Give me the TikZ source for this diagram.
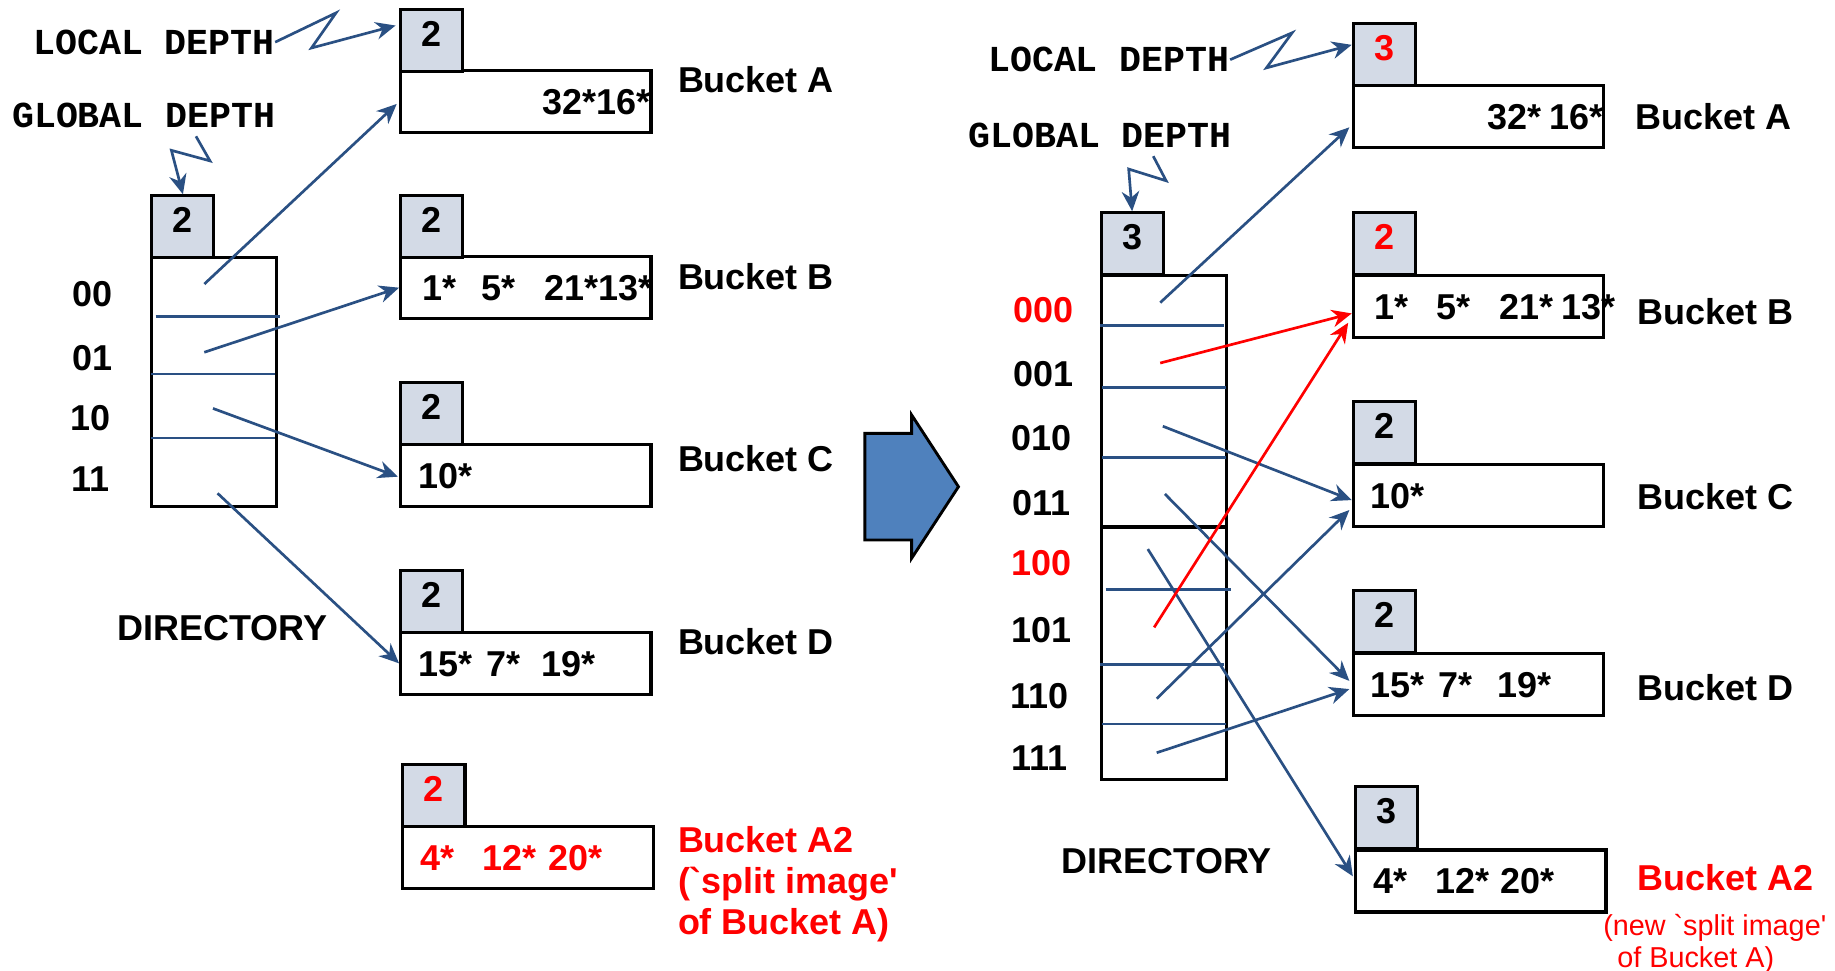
\documentclass[tikz,border=0pt]{standalone}
\usepackage{fontspec}
\setmainfont{Liberation Sans}
\newfontfamily\machine{Liberation Mono}
\usetikzlibrary{arrows.meta, calc}
\definecolor{bleufonce}{HTML}{2A5083}
\definecolor{rouge}{HTML}{FF0000}
\definecolor{pointille}{HTML}{D3DAE6}
\definecolor{bleuplein}{HTML}{4F81BD}
\newcommand{\grasse}{\bfseries\fontsize{17.5}{21}\selectfont}
\tikzset{
  prof/.style={rectangle, draw=black, line width=1.5pt, fill=pointille,
    minimum width=1.06cm, minimum height=1.06cm, inner sep=0pt,
    text height=12.6pt, text depth=6.8pt, font=\grasse, anchor=north west},
  seau/.style={rectangle, draw=black, line width=1.5pt, fill=white,
    minimum width=4.28cm, minimum height=1.06cm, text width=3.68cm,
    inner xsep=0.3cm, inner ysep=0pt, text height=12.6pt, text depth=0pt,
    align=left, font=\grasse, anchor=north west},
  repertoire/.style={rectangle, draw=black, line width=1.5pt, fill=white,
    minimum width=2.13cm, minimum height=4.26cm, inner sep=0pt, anchor=north west},
  etiquette/.style={font=\grasse, anchor=west, inner sep=0pt},
  bits/.style={font=\grasse, inner sep=0pt},
  legende/.style={font=\machine\bfseries\fontsize{17.8}{20}\selectfont,
    anchor=west, inner sep=0pt},
  fleche/.style={-{Stealth[length=3.4mm, width=3mm, inset=1.1mm]},
    line width=1.3pt, color=bleufonce},
  flecherouge/.style={fleche, color=rouge},
  ligne/.style={line width=1.3pt, color=bleufonce},
  grossefleche/.style={draw=black, line width=1.4pt, fill=bleuplein, line join=miter}
}
\begin{document}
\begin{tikzpicture}[x=0.02cm, y=-0.02cm]
  \useasboundingbox (0,0) rectangle (1568,829);

  % ---- avant : profondeur globale 2
  \node[legende] (lloc) at (28,36) {LOCAL DEPTH};
  \node[legende] (lglob) at (10,99) {GLOBAL DEPTH};

  \node[repertoire] (lrep) at (128.5,218.7) {};
  \node[prof] (lgd) at (128.5,166) {2};
  \draw[ligne] (133,270.6) -- (239,270.6);
  \draw[ligne] (129,319.6) -- (235,319.6);
  \draw[ligne] (129,374.4) -- (235,374.4);

  \node[bits] (l00) at (79,251) {00};
  \node[bits] (l01) at (79,306) {01};
  \node[bits] (l10) at (77,357) {10};
  \node[bits] (l11) at (77,409) {11};
  \node[font=\grasse] (ldir) at (190,537) {DIRECTORY};

  \node[seau, align=right, text width=4.28cm, inner xsep=0pt] (lA) at (341,59) {\mbox{32*16*}};
  \node[prof] (lpA) at (341,7) {2};
  \node[seau] (lB) at (341,218) {\mbox{\hspace{2pt}1*\hspace{0.7em}5*\hspace{0.8em}21*13*}};
  \node[prof] (lpB) at (341,166) {2};
  \node[seau] (lC) at (341,378.5) {10*};
  \node[prof] (lpC) at (341,325.5) {2};
  \node[seau] (lD) at (341,539) {\mbox{15*\hspace{0.39em}7*\hspace{0.6em}19*}};
  \node[prof] (lpD) at (341,486) {2};
  \node[seau, text=rouge] (lA2) at (343,705) {\mbox{4*\hspace{0.78em}12*\hspace{0.33em}20*}};
  \node[prof, text=rouge] (lpA2) at (343,652) {2};

  \node[etiquette] (leA) at (579,68) {Bucket A};
  \node[etiquette] (leB) at (579,236) {Bucket B};
  \node[etiquette] (leC) at (579,392) {Bucket C};
  \node[etiquette] (leD) at (579,548) {Bucket D};
  \node[etiquette, anchor=north west, align=left, text=rouge,
    font=\bfseries\fontsize{17.5}{20.1}\selectfont] (leA2) at (579,705.5)
    {Bucket A2\\(\textasciigrave split image\textquotesingle\\of Bucket A)};

  \draw[fleche] (lloc.east) -- ++(52,-25) -- ++(-21,30) -- ($(lpA.west)+(-3,-13)$);
  \draw[fleche] ($(lglob.south)+(44.5,6.5)$) -- ++(12,21) -- ++(-33,-9) -- (lgd.north);

  \coordinate (g00) at (174.6,242.7);
  \coordinate (g01) at (174.6,301);
  \coordinate (g10) at (182,349);
  \coordinate (g11) at (185.9,421.5);
  \draw[fleche] (g00) -- ($(lA.west)+(-2,2)$);
  \draw[fleche] (g01) -- (lB.west);
  \draw[fleche] (g10) -- ($(lC.west)+(-1,1)$);
  \draw[fleche] (g11) -- (lD.west);

  % ---- grosse fleche
  \draw[grossefleche] (739,370.3) -- (779,370.3) -- (779,354.6) -- (819,415.9)
    -- (779,477) -- (779,461.4) -- (739,461.4) -- cycle;

  % ---- apres : profondeur globale 3
  \node[legende] (rloc) at (844,51) {LOCAL DEPTH};
  \node[legende] (rglob) at (827,116) {GLOBAL DEPTH};

  \node[repertoire, minimum width=2.14cm, minimum height=4.3cm] (rrep1) at (939.6,234) {};
  \node[repertoire, minimum width=2.14cm, minimum height=4.31cm] (rrep2) at (939.6,449) {};
  \node[prof] (rgd) at (939.6,180.5) {3};
  \draw[ligne] (940.2,278.1) -- (1046.3,278.1);
  \draw[ligne] (941.7,331.2) -- (1047.9,331.2);
  \draw[ligne] (941.7,391.2) -- (1047.9,391.2);
  \draw[ligne] (944.8,504) -- (1051.5,504);
  \draw[ligne] (940.2,567.6) -- (1046.3,567.6);
  \draw[ligne] (941.7,618.6) -- (1047.9,618.6);

  \node[bits, text=rouge] (r000) at (892,265) {000};
  \node[bits] (r001) at (892,320) {001};
  \node[bits] (r010) at (890,374) {010};
  \node[bits] (r011) at (890,430) {011};
  \node[bits, text=rouge] (r100) at (890,481) {100};
  \node[bits] (r101) at (890,538) {101};
  \node[bits] (r110) at (888,595) {110};
  \node[bits] (r111) at (888,648) {111};
  \node[font=\grasse] (rdir) at (997,736) {DIRECTORY};

  \node[seau, align=right, text width=4.28cm, inner xsep=0pt] (rA) at (1155,72) {\mbox{32*\hspace{0.23em}16*}};
  \node[prof, text=rouge] (rpA) at (1155,18.5) {3};
  \node[seau] (rB) at (1155,234) {\mbox{\hspace{2pt}1*\hspace{0.78em}5*\hspace{0.78em}21*\hspace{0.23em}13*}};
  \node[prof, text=rouge] (rpB) at (1155,180.5) {2};
  \node[seau] (rC) at (1155,395.5) {10*};
  \node[prof] (rpC) at (1155,342) {2};
  \node[seau] (rD) at (1155,557) {\mbox{15*\hspace{0.39em}7*\hspace{0.7em}19*}};
  \node[prof] (rpD) at (1155,503.5) {2};
  \node[seau] (rA2) at (1157,725) {\mbox{4*\hspace{0.8em}12*\hspace{0.3em}20*}};
  \node[prof] (rpA2) at (1157,671) {3};

  \node[etiquette] (reA) at (1397,100) {Bucket A};
  \node[etiquette] (reB) at (1399,266) {Bucket B};
  \node[etiquette] (reC) at (1399,424) {Bucket C};
  \node[etiquette] (reD) at (1399,588) {Bucket D};
  \node[etiquette, text=rouge] (reA2) at (1399,750) {Bucket A2};
  \node[anchor=north west, align=left, inner sep=0pt, text=rouge,
    font=\fontsize{14}{15.3}\selectfont] (rnote) at (1369.6,781)
    {(new \textasciigrave split image\textquotesingle\\\hspace*{0.49em}of Bucket A)};

  \draw[fleche] (rloc.east) -- ++(53,-23) -- ++(-22,30) -- ($(rpA.west)+(0,-8)$);
  \draw[fleche] ($(rglob.south)+(45.5,6.5)$) -- ++(11,21) -- ++(-32,-10) -- (rgd.north);

  \coordinate (h000) at (991.4,258.6);
  \coordinate (h001) at (991.4,310.2);
  \coordinate (h010) at (993.6,364.2);
  \coordinate (h011) at (995.4,422.1);
  \coordinate (h100) at (980.8,469.2);
  \coordinate (h101) at (986.2,536.1);
  \coordinate (h110) at (988.4,597);
  \coordinate (h111) at (988.4,643.2);
  \draw[fleche] (h000) -- ($(rA.west)+(-2,9)$);
  \draw[fleche] (h010) -- ($(rC.west)+(0,4)$);
  \draw[fleche] (h011) -- ($(rD.west)+(-2,-3)$);
  \draw[fleche] (h100) -- ($(rA2.west)+(-1,-4)$);
  \draw[fleche] (h110) -- ($(rC.west)+(-2,12.5)$);
  \draw[fleche] (h111) -- ($(rD.west)+(-2,4)$);
  \draw[flecherouge] (h001) -- ($(rB.west)+(0,6)$);
  \draw[flecherouge] (h101) -- ($(rB.west)+(-3,14)$);
\end{tikzpicture}
\end{document}
